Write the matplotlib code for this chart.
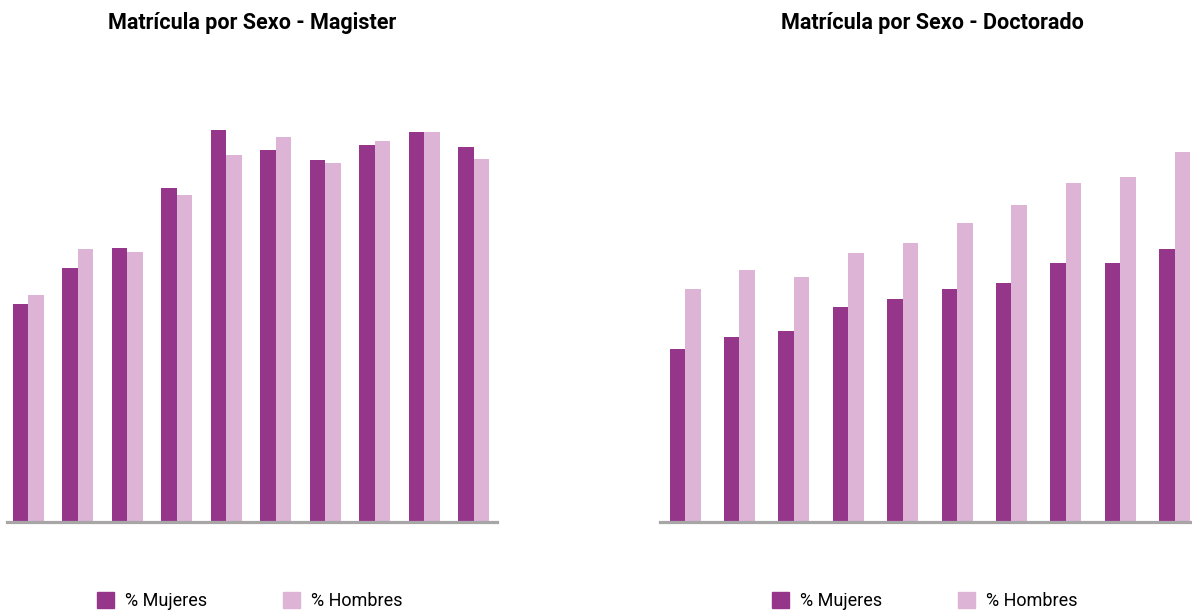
#chart of enrolment by sex, magister and doctorado
import numpy as np
import matplotlib.pyplot as plt
from matplotlib.patches import Patch

years = ['1', '2', '3', '4', '5', '6', '7', '8', '9', '10']

magisterMujeres = [218, 254, 274, 334, 392, 372, 362, 377, 390, 375]
magisterHombres = [227, 273, 270, 327, 367, 385, 359, 381, 390, 363]

doctoradoMujeres = [173, 185, 191, 215, 223, 233, 239, 259, 259, 273]
doctoradoHombres = [233, 252, 245, 269, 279, 299, 317, 339, 345, 370]

colorMujeres = '#96368b'
colorHombres = '#ddb3d6'
fontList = ['Roboto', 'DejaVu Sans']

fig = plt.figure(figsize=(11.92, 6.15), dpi=100)

def drawPanel(rect, mujeres, hombres, width, xlim):
    ax = fig.add_axes(rect)
    x = np.arange(len(years))
    ax.bar(x - width / 2, mujeres, width, color=colorMujeres)
    ax.bar(x + width / 2, hombres, width, color=colorHombres)
    ax.set_xlim(xlim)
    ax.set_ylim(0, 422)
    for side in ['top', 'left', 'right']:
        ax.spines[side].set_visible(False)
    ax.spines['bottom'].set_color('#a8a5a6')
    ax.spines['bottom'].set_linewidth(2.3)
    ax.set_xticks([])
    ax.set_yticks([])
    return ax

bottom = 1 - 522 / 615
height = 422 / 615
drawPanel([7 / 1192, bottom, 490 / 1192, height], magisterMujeres, magisterHombres, 0.313, (-0.43, 9.47))
drawPanel([660 / 1192, bottom, 532 / 1192, height], doctoradoMujeres, doctoradoHombres, 0.285, (-0.46, 9.32))

fig.text(252 / 1192, 1 - 23 / 615, 'Matrícula por Sexo - Magister', ha='center', va='center',
         fontsize=15.5, fontweight='bold', family=fontList)
fig.text(932 / 1192, 1 - 23 / 615, 'Matrícula por Sexo - Doctorado', ha='center', va='center',
         fontsize=15.5, fontweight='bold', family=fontList)

handles = [Patch(color=colorMujeres, label='% Mujeres'), Patch(color=colorHombres, label='% Hombres')]
for cx in [250 / 1192, 925 / 1192]:
    fig.legend(handles=handles, loc='center', bbox_to_anchor=(cx, 1 - 601 / 615), ncol=2,
               frameon=False, handlelength=0.95, handleheight=0.95, handletextpad=0.6,
               columnspacing=4.2, borderpad=0.2, prop={'family': fontList, 'size': 13})

fig.savefig('out.png', dpi=100)
